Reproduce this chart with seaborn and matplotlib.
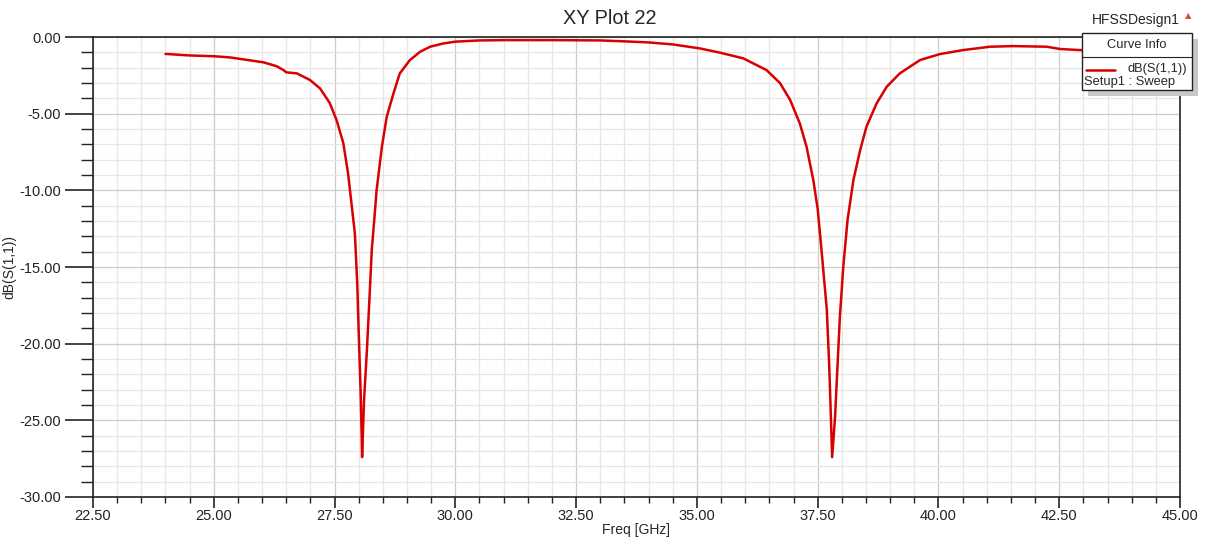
import matplotlib
matplotlib.use("Agg")
import matplotlib.pyplot as plt
from matplotlib.patches import Rectangle
from matplotlib.lines import Line2D
from matplotlib.ticker import MultipleLocator, FormatStrFormatter
import pandas as pd
import seaborn as sns

sns.set_style("ticks")
plt.rcParams['font.family'] = ['Liberation Sans', 'DejaVu Sans']

# S11 sweep
freq = [24.0, 24.5, 25.0, 25.34, 25.6, 26.03, 26.3, 26.44, 26.5, 26.72, 26.99,
        27.2, 27.4, 27.54, 27.68, 27.78, 27.85, 27.92, 27.97, 28.0, 28.04,
        28.06, 28.07, 28.11, 28.17, 28.22, 28.27, 28.33, 28.37, 28.48, 28.58,
        28.72, 28.85, 29.06, 29.27, 29.48, 29.75, 30.0, 30.5, 31.0, 32.0,
        33.0, 33.5, 34.0, 34.5, 35.06, 35.48, 35.96, 36.44, 36.72, 36.93,
        37.13, 37.27, 37.41, 37.5, 37.58, 37.69, 37.74, 37.78, 37.8, 37.86,
        37.91, 37.96, 38.03, 38.12, 38.24, 38.38, 38.51, 38.72, 38.93, 39.2,
        39.62, 40.03, 40.51, 41.07, 41.55, 42.24, 42.52, 42.93, 43.5, 44.2, 45.0]
s11 = [-1.1, -1.2, -1.25, -1.33, -1.45, -1.65, -1.9, -2.15, -2.3, -2.37, -2.8,
       -3.35, -4.3, -5.4, -6.9, -8.9, -10.85, -12.8, -16.1, -19.3, -23.2,
       -25.85, -27.4, -23.7, -20.4, -17.2, -13.9, -11.6, -10.0, -7.15, -5.2,
       -3.67, -2.37, -1.5, -0.96, -0.63, -0.42, -0.3, -0.22, -0.2, -0.2,
       -0.22, -0.28, -0.35, -0.48, -0.74, -1.02, -1.39, -2.15, -3.0, -4.1,
       -5.63, -7.15, -9.33, -11.2, -13.9, -17.8, -21.5, -25.4, -27.4, -24.8,
       -21.5, -18.25, -15.0, -11.9, -9.33, -7.37, -5.85, -4.33, -3.24, -2.37,
       -1.5, -1.11, -0.85, -0.63, -0.59, -0.63, -0.78, -0.85, -0.9, -0.92, -0.95]

df = pd.DataFrame({'freq': freq, 's11': s11})

fig = plt.figure(figsize=(12.08, 5.37), dpi=100)
ax = fig.add_axes([0.077, 0.0745, 0.8998, 0.8565])

sns.lineplot(data=df, x='freq', y='s11', color='#d80000', linewidth=1.8, ax=ax)

ax.set_xlim(22.5, 45.0)
ax.set_ylim(-30.0, 0.0)
ax.xaxis.set_major_locator(MultipleLocator(2.5))
ax.xaxis.set_minor_locator(MultipleLocator(0.5))
ax.yaxis.set_major_locator(MultipleLocator(5.0))
ax.yaxis.set_minor_locator(MultipleLocator(1.0))
ax.xaxis.set_major_formatter(FormatStrFormatter('%.2f'))
ax.yaxis.set_major_formatter(FormatStrFormatter('%.2f'))

ax.grid(which='major', color='#cccccc', linewidth=0.9)
ax.grid(which='minor', color='#e6e6e6', linewidth=0.9)
ax.set_axisbelow(True)

ax.tick_params(axis='x', which='major', length=8, width=1.2, labelsize=10.5, colors='#222222', pad=1)
ax.tick_params(axis='x', which='minor', length=4, width=1.0, colors='#222222')
ax.tick_params(axis='y', which='major', length=20, width=1.2, labelsize=10.5, colors='#222222', pad=3)
ax.tick_params(axis='y', which='minor', length=9, width=1.0, colors='#222222')
for side in ['top', 'bottom', 'left', 'right']:
    ax.spines[side].set_visible(True)
    ax.spines[side].set_color('#222222')
    ax.spines[side].set_linewidth(1.2)

ax.set_xlabel('Freq [GHz]', fontsize=10, labelpad=0)
ax.set_ylabel('dB(S(1,1))', fontsize=10, labelpad=2)

fig.text(0.505, 0.965, 'XY Plot 22', ha='center', va='center', fontsize=14.3)
fig.text(1136 / 1208, 0.963, 'HFSSDesign1', ha='center', va='center', fontsize=10)
fig.text(0.984, 0.972, '▲', ha='center', va='center', fontsize=6, color='#d05030',
         family=['DejaVu Sans'])

# curve info box
W, H = 1208.0, 537.0
x0, x1, y0, y1 = 1082, 1192, 33, 90
shadow = Rectangle(((x0 + 6) / W, 1 - (y1 + 6) / H), (x1 - x0) / W, (y1 - y0) / H,
                   transform=fig.transFigure, facecolor='#c8c8c8', edgecolor='none', zorder=5)
box = Rectangle((x0 / W, 1 - y1 / H), (x1 - x0) / W, (y1 - y0) / H,
                transform=fig.transFigure, facecolor='white', edgecolor='#222222',
                linewidth=1.0, zorder=6)
fig.add_artist(shadow)
fig.add_artist(box)
fig.add_artist(Line2D([x0 / W, x1 / W], [1 - 57 / H, 1 - 57 / H], transform=fig.transFigure,
                      color='#222222', linewidth=0.8, zorder=7))
fig.add_artist(Line2D([1086 / W, 1115 / W], [1 - 70 / H, 1 - 70 / H], transform=fig.transFigure,
                      color='#d80000', linewidth=1.8, zorder=7))
fig.text((x0 + x1) / 2 / W, 1 - 45 / H, 'Curve Info', ha='center', va='center', fontsize=9.3, zorder=8)
fig.text(1187 / W, 1 - 69 / H, 'dB(S(1,1))', ha='right', va='center', fontsize=9.3, zorder=8)
fig.text(1084 / W, 1 - 82 / H, 'Setup1 : Sweep', ha='left', va='center', fontsize=9.3, zorder=8)

fig.savefig('out.png', dpi=100)
